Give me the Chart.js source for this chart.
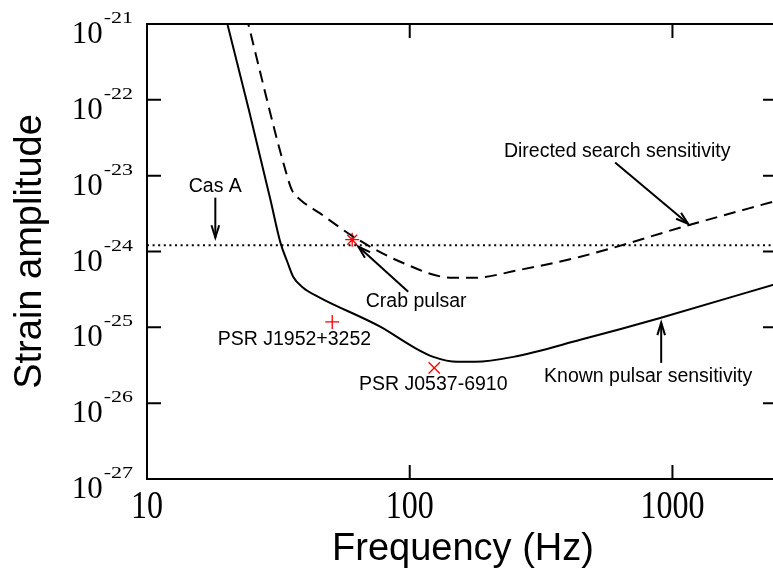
<!DOCTYPE html>
<html>
<head>
<meta charset="utf-8">
<script src="https://cdn.jsdelivr.net/npm/chart.js@4.4.1/dist/chart.umd.min.js"></script>
<style>
  html, body { margin: 0; padding: 0; background: #fff; overflow: hidden; }
  #wrap { width: 773px; height: 571px; overflow: hidden; }
</style>
</head>
<body>
<div id="wrap"><canvas id="myChart" width="777" height="571"></canvas></div>
<script>
  // values (frequency in Hz, strain amplitude)
  var knownFreq = [19.85, 24.4, 29.5, 32.2, 34.2, 36.0, 39.3, 45.6, 77.2, 103, 123, 152, 178, 248, 446, 898, 2500];
  var knownH = [1.3e-21, 7.43e-23, 4.82e-24, 1.31e-24, 7.33e-25, 4.65e-25, 3.32e-25, 2.45e-25, 1.02e-25, 5.53e-26, 4.08e-26, 3.51e-26, 3.51e-26, 4.08e-26, 6.84e-26, 1.33e-25, 3.77e-25];

  var directedFreq = [23.83, 34.2, 35.7, 38.3, 45.6, 61.0, 92.0, 146, 174, 263, 446, 1167, 2500];
  var directedH = [1.3e-21, 9.7e-24, 6.34e-24, 4.82e-24, 3.18e-24, 1.57e-24, 7.33e-25, 4.5e-25, 4.5e-25, 5.74e-25, 8.53e-25, 2.25e-24, 4.69e-24];

  var casAFreq = [10, 2500];
  var casAH = [1.21e-24, 1.21e-24];

  var pulsarNames = ["Crab pulsar", "PSR J1952+3252", "PSR J0537-6910"];
  var pulsarFreq = [60.4, 50.7, 124];
  var pulsarH = [1.43e-24, 1.18e-25, 2.92e-26];

  var xTickVals = [10, 100, 1000];
  var yTickExp = [-27, -26, -25, -24, -23, -22, -21];

  // labels and arrows, placed in data units
  var noteText = ["Cas A", "Crab pulsar", "Directed search sensitivity", "PSR J1952+3252", "PSR J0537-6910", "Known pulsar sensitivity"];
  var noteFreq = [18.2, 105.8, 616, 36.4, 122.9, 808];
  var noteH = [7.16e-24, 2.17e-25, 2.07e-23, 6.84e-26, 1.74e-26, 2.22e-26];

  var arrowFrom = [[18.2, 5.13e-24], [98.7, 2.94e-25], [605, 1.49e-23], [906, 3.4e-26]];
  var arrowTo = [[18.2, 1.52e-24], [63.7, 1.16e-24], [1147, 2.32e-24], [906, 1.15e-25]];

  function pts(xs, ys) {
    return xs.map(function (v, i) { return { x: v, y: ys[i] }; });
  }

  function arrow(c, x1, y1, x2, y2) {
    c.beginPath(); c.moveTo(x1, y1); c.lineTo(x2, y2); c.stroke();
    var ang = Math.atan2(y2 - y1, x2 - x1), len = 13, spread = 0.3;
    c.beginPath();
    c.moveTo(x2 - len * Math.cos(ang - spread), y2 - len * Math.sin(ang - spread));
    c.lineTo(x2, y2);
    c.lineTo(x2 - len * Math.cos(ang + spread), y2 - len * Math.sin(ang + spread));
    c.stroke();
  }

  // frame, inward ticks, tick labels, axis titles, notes
  var decor = {
    id: 'decor',
    afterDatasetsDraw: function (chart) {
      var c = chart.ctx, a = chart.chartArea, xs = chart.scales.x, ys = chart.scales.y;
      c.save();
      c.strokeStyle = '#000';
      c.fillStyle = '#000';
      c.lineWidth = 2;
      c.strokeRect(a.left, a.top, a.right - a.left, a.bottom - a.top);

      var tl = 14;
      c.beginPath();
      yTickExp.forEach(function (e) {
        var y = ys.getPixelForValue(Math.pow(10, e));
        c.moveTo(a.left, y); c.lineTo(a.left + tl, y);
        c.moveTo(a.right, y); c.lineTo(a.right - tl, y);
      });
      xTickVals.forEach(function (v) {
        var x = xs.getPixelForValue(v);
        c.moveTo(x, a.bottom); c.lineTo(x, a.bottom - tl);
        c.moveTo(x, a.top); c.lineTo(x, a.top + tl);
      });
      c.stroke();

      // y tick labels: 10 with superscript exponent
      yTickExp.forEach(function (e) {
        var y = ys.getPixelForValue(Math.pow(10, e));
        var sup = String(e);
        c.font = '22px "Liberation Serif"';
        var sw = c.measureText(sup).width;
        var right = a.left - 14;
        c.textAlign = 'left';
        c.textBaseline = 'alphabetic';
        c.save();
        c.translate(right - sw, y - 1);
        c.scale(1, 0.72);
        c.fillText(sup, 0, 0);
        c.restore();
        c.font = '31px "Liberation Serif"';
        c.textAlign = 'right';
        c.fillText('10', right - sw - 1, y + 19);
      });

      // x tick labels
      xTickVals.forEach(function (v) {
        var x = xs.getPixelForValue(v);
        c.save();
        c.font = '32px "Liberation Serif"';
        c.textAlign = 'center';
        c.textBaseline = 'alphabetic';
        c.translate(x, a.bottom + 39);
        c.scale(1, 1.25);
        c.fillText(String(v), 0, 0);
        c.restore();
      });

      // axis titles
      c.font = '38px "Liberation Sans"';
      c.textAlign = 'center';
      c.textBaseline = 'alphabetic';
      c.fillText('Frequency (Hz)', (a.left + a.right) / 2 + 1, 560);
      c.save();
      c.translate(41, (a.top + a.bottom) / 2);
      c.rotate(-Math.PI / 2);
      c.fillText('Strain amplitude', 0, 0);
      c.restore();

      // notes
      c.font = '19.5px "Liberation Sans"';
      c.textAlign = 'center';
      c.textBaseline = 'middle';
      noteText.forEach(function (t, i) {
        c.fillText(t, xs.getPixelForValue(noteFreq[i]), ys.getPixelForValue(noteH[i]));
      });
      c.lineWidth = 2;
      arrowFrom.forEach(function (p, i) {
        var q = arrowTo[i];
        arrow(c, xs.getPixelForValue(p[0]), ys.getPixelForValue(p[1]),
                 xs.getPixelForValue(q[0]), ys.getPixelForValue(q[1]));
      });
      c.restore();
    }
  };

  var ctx = document.getElementById("myChart");
  var chart = new Chart(ctx, {
    type: 'scatter',
    data: {
      datasets: [{
        label: 'Known pulsar sensitivity',
        data: pts(knownFreq, knownH),
        showLine: true,
        borderColor: '#000',
        borderWidth: 2,
        pointRadius: 0,
        cubicInterpolationMode: 'monotone'
      }, {
        label: 'Directed search sensitivity',
        data: pts(directedFreq, directedH),
        showLine: true,
        borderColor: '#000',
        borderWidth: 2,
        borderDash: [12, 7],
        pointRadius: 0,
        cubicInterpolationMode: 'monotone'
      }, {
        label: 'Cas A',
        data: pts(casAFreq, casAH),
        showLine: true,
        borderColor: '#000',
        borderWidth: 2,
        borderDash: [2, 3.6],
        pointRadius: 0
      }, {
        label: pulsarNames[0],
        data: [{ x: pulsarFreq[0], y: pulsarH[0] }],
        pointStyle: 'star',
        radius: 7,
        borderColor: '#ff0000',
        borderWidth: 1.3
      }, {
        label: pulsarNames[1],
        data: [{ x: pulsarFreq[1], y: pulsarH[1] }],
        pointStyle: 'cross',
        radius: 7,
        borderColor: '#ff0000',
        borderWidth: 1.3
      }, {
        label: pulsarNames[2],
        data: [{ x: pulsarFreq[2], y: pulsarH[2] }],
        pointStyle: 'crossRot',
        radius: 8,
        borderColor: '#ff0000',
        borderWidth: 1.3
      }]
    },
    options: {
      responsive: false,
      animation: false,
      layout: { autoPadding: false, padding: { top: 24, right: 0, bottom: 0, left: 0 } },
      plugins: { legend: { display: false }, tooltip: { enabled: false } },
      scales: {
        x: {
          type: 'logarithmic', min: 10, max: 2500,
          grid: { display: false }, border: { display: false }, ticks: { display: false },
          afterFit: function (s) { s.height = 92; }
        },
        y: {
          type: 'logarithmic', min: 1e-27, max: 1e-21,
          grid: { display: false }, border: { display: false }, ticks: { display: false },
          afterFit: function (s) { s.width = 147; }
        }
      }
    },
    plugins: [decor]
  });
</script>
</body>
</html>
